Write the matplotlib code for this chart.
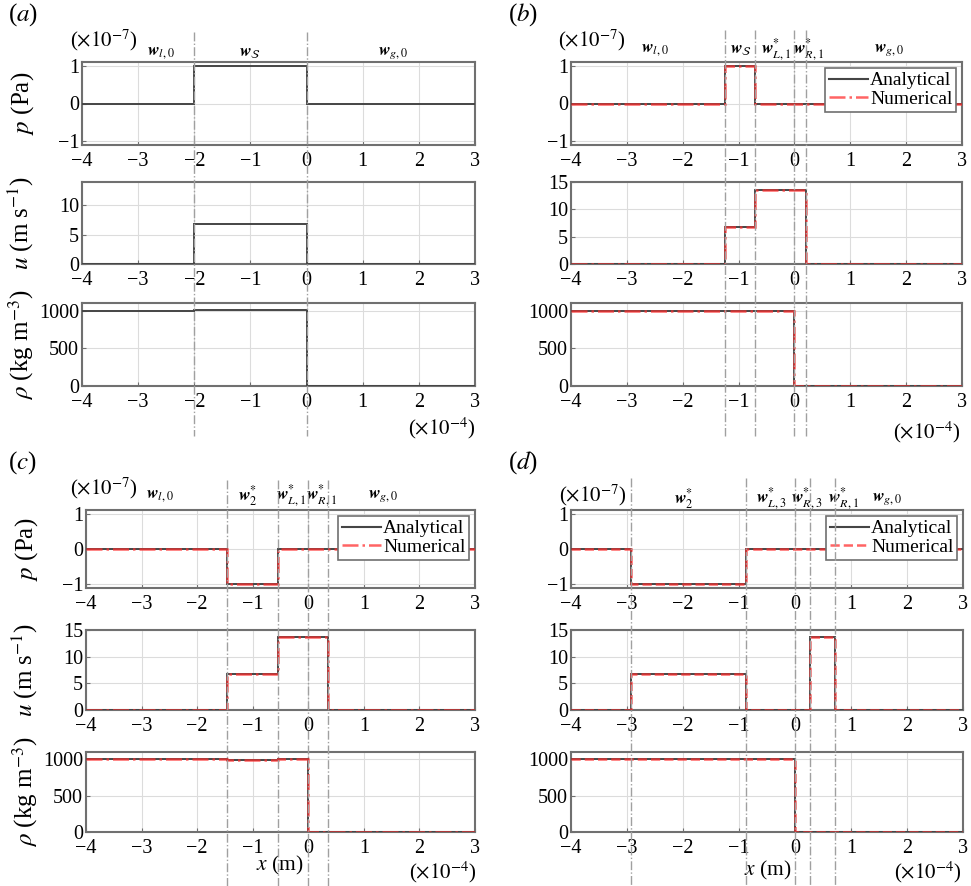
import matplotlib
matplotlib.use("Agg")
import matplotlib.pyplot as plt
from matplotlib.lines import Line2D

plt.rcParams['font.family'] = ['Liberation Serif', 'DejaVu Serif']
plt.rcParams['mathtext.fontset'] = 'stix'

W, H = 971, 886

# x in units of 1e-4 m, p in units of 1e-7 Pa
# panel (a)
edges_a = [-4, -2, 0, 3]
p_a = [0, 1, 0]
u_a = [0, 6.8, 0]
rho_a = [1000, 1008, 1.2]
waves_a = [-2, 0]
reg_a = [r'$\boldsymbol{w}_{l,0}$', r'$\boldsymbol{w}_{\mathcal{S}}$', r'$\boldsymbol{w}_{g,0}$']
reg_x_a = [-2.6, -1.0, 1.55]

# panel (b)
edges_b = [-4, -1.25, -0.71, 0, 0.2, 3]
p_b = [0, 1, 0, 0, 0]
u_b = [0, 6.8, 13.6, 13.6, 0]
rho_b = [1000, 1000, 1000, 1.2, 1.2]
waves_b = [-1.25, -0.71, 0, 0.2]
reg_b = [r'$\boldsymbol{w}_{l,0}$', r'$\boldsymbol{w}_{\mathcal{S}}$', r'$\boldsymbol{w}^{*}_{L,1}$',
         r'$\boldsymbol{w}^{*}_{R,1}$', r'$\boldsymbol{w}_{g,0}$']
reg_x_b = [-2.5, -0.95, -0.33, 0.26, 1.7]

# panel (c)
edges_c = [-4, -1.47, -0.54, 0, 0.36, 3]
p_c = [0, -1, 0, 0, 0]
u_c = [0, 6.8, 13.6, 13.6, 0]
rho_c = [1000, 992, 1000, 1.2, 1.2]
waves_c = [-1.47, -0.54, 0, 0.36]
reg_c = [r'$\boldsymbol{w}_{l,0}$', r'$\boldsymbol{w}^{*}_{2}$', r'$\boldsymbol{w}^{*}_{L,1}$',
         r'$\boldsymbol{w}^{*}_{R,1}$', r'$\boldsymbol{w}_{g,0}$']
reg_x_c = [-2.67, -1.08, -0.3, 0.23, 1.35]

# panel (d)
edges_d = [-4, -2.93, -0.88, 0, 0.27, 0.71, 3]
p_d = [0, -1, 0, 0, 0, 0]
u_d = [0, 6.8, 0, 0, 13.6, 0]
rho_d = [1000, 1000, 1000, 1.2, 1.2, 1.2]
waves_d = [-2.93, -0.88, 0, 0.27, 0.71]
reg_d = [r'$\boldsymbol{w}^{*}_{2}$', r'$\boldsymbol{w}^{*}_{L,3}$', r'$\boldsymbol{w}^{*}_{R,3}$',
         r'$\boldsymbol{w}^{*}_{R,1}$', r'$\boldsymbol{w}_{g,0}$']
reg_x_d = [-1.98, -0.42, 0.2, 0.86, 1.64]

xticks = [-4, -3, -2, -1, 0, 1, 2, 3]
ylabels = [r'$p$ (Pa)', r'$u$ (m s$^{-1}$)', r'$\rho$ (kg m$^{-3}$)']

dark = '#454545'
red = '#ff3030'
frame = '#707070'

fig = plt.figure(figsize=(W / 100, H / 100), dpi=100)


def rect(x0, y0, x1, y1):
    return [x0 / W, 1 - y1 / H, (x1 - x0) / W, (y1 - y0) / H]


def panel(tag, x0, x1, rows, edges, p, u, rho, waves, regs, reg_x, num_ls,
          left, umax, line_top, sci_y, reg_y, tag_xy, m_xy, xlab):
    axes = []
    for (y0, y1) in rows:
        axes.append(fig.add_axes(rect(x0, y0, x1, y1)))
    data = [p, u, rho]
    ylims = [(-1.1, 1.1), (0, umax), (0, 1100)]
    yticks = [[-1, 0, 1], [0, 5, 10] if umax < 15 else [0, 5, 10, 15], [0, 500, 1000]]
    for i, ax in enumerate(axes):
        ax.stairs(data[i], edges, color=dark, lw=1.4, baseline=None, zorder=3)
        if num_ls is not None:
            ax.stairs(data[i], edges, color=red, lw=1.8, alpha=0.75, ls=num_ls,
                      baseline=None, zorder=4)
        ax.set_xlim(-4, 3)
        ax.set_ylim(*ylims[i])
        ax.set_xticks(xticks)
        ax.set_yticks(yticks[i])
        ax.grid(True, color='#dcdcdc', lw=0.8)
        ax.tick_params(direction='in', length=3, labelsize=14.5, color=frame, pad=2)
        ax.tick_params(axis='x', pad=5)
        for s in ax.spines.values():
            s.set_color(frame)
            s.set_linewidth(1.5)
        ax.set_axisbelow(True)
        if left:
            ax.set_ylabel(ylabels[i], fontsize=18)
            ax.yaxis.set_label_coords(-0.118, 0.5)
    ax0 = axes[0]
    if num_ls is not None:
        handles = [Line2D([], [], color=dark, lw=1.5),
                   Line2D([], [], color=red, lw=1.8, alpha=0.75, ls=num_ls)]
        leg = ax0.legend(handles, ['Analytical', 'Numerical'], loc='upper right',
                         fontsize=14, handlelength=2.0, handletextpad=0.1,
                         labelspacing=0.05, borderpad=0.2, borderaxespad=0.3,
                         fancybox=False, framealpha=1, edgecolor=frame)
        leg.get_frame().set_linewidth(1.2)
        leg.set_zorder(10)
    # wave lines across the column
    inv = fig.transFigure.inverted()
    for xw in waves:
        fx = inv.transform(ax0.transData.transform((xw, 0)))[0]
        fig.add_artist(Line2D([fx, fx], [1 - line_top[0] / H, 1 - line_top[1] / H],
                              transform=fig.transFigure, color='#a0a0a0',
                              lw=1.0, ls='-.', zorder=5))
    for lab, xr in zip(regs, reg_x):
        fx = inv.transform(ax0.transData.transform((xr, 0)))[0]
        fig.text(fx, 1 - reg_y / H, lab, fontsize=12.5, ha='center', va='center')
    fig.text(sci_y[0] / W, 1 - sci_y[1] / H, r'($\times10^{-7}$)', fontsize=15,
             ha='left', va='center')
    fig.text(m_xy[0] / W, 1 - m_xy[1] / H, r'($\times10^{-4}$)', fontsize=15,
             ha='right', va='center')
    fig.text(tag_xy[0] / W, 1 - tag_xy[1] / H, '(' + r'$\it{' + tag + '}$' + ')',
             fontsize=18, ha='center', va='center')
    if xlab is not None:
        fig.text(xlab[0] / W, 1 - xlab[1] / H, r'$x$ (m)', fontsize=15.5,
                 ha='center', va='center')


top_rows = [(62, 145), (182, 264), (303, 386)]
bot_rows = [(510, 588), (630, 710), (752, 832)]

panel('a', 82, 475, top_rows, edges_a, p_a, u_a, rho_a, waves_a, reg_a, reg_x_a,
      None, True, 14, (32, 436), (70, 40), 53, (23, 15), (476, 428), None)
panel('b', 571, 962, top_rows, edges_b, p_b, u_b, rho_b, waves_b, reg_b, reg_x_b,
      '-.', False, 15, (30, 436), (558, 40), 50, (523, 15), (961, 432), None)
panel('c', 86, 475, bot_rows, edges_c, p_c, u_c, rho_c, waves_c, reg_c, reg_x_c,
      '-.', True, 15, (480, 886), (70, 488), 496, (22, 463), (477, 872), (280, 865))
panel('d', 571, 963, bot_rows, edges_d, p_d, u_d, rho_d, waves_d, reg_d, reg_x_d,
      '--', False, 15, (478, 886), (559, 495), 499, (523, 463), (962, 872), (768, 870))

fig.savefig('out.png', dpi=100)
